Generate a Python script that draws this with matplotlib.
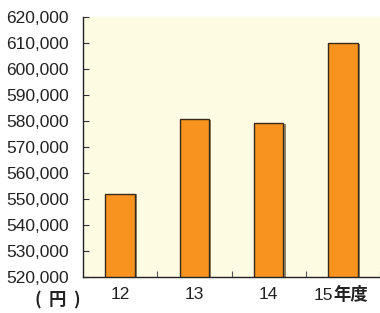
import numpy as np
import matplotlib.pyplot as plt
import matplotlib.patheffects as pe

plt.rcParams['font.family'] = ['Liberation Sans', 'Noto Sans CJK JP']

# 年度ごとの金額
nendo = ['12', '13', '14', '15']
kingaku = [552000, 580800, 579200, 610000]
y_ticks = list(range(520000, 620001, 10000))

fig = plt.figure(figsize=(3.8, 3.13), dpi=100)
ax = fig.add_axes([83 / 380, 36 / 313, 297 / 380, 260 / 313])
ax.set_facecolor('#FEFBE3')

x = np.arange(len(nendo))
ax.bar(x, kingaku, width=0.4, color='#F7931E', edgecolor='#3a2a1a', linewidth=1.0,
       path_effects=[pe.SimplePatchShadow(offset=(1.5, -0.5), shadow_rgbFace='#8a7a60', alpha=0.9),
                     pe.Normal()])

ax.set_xlim(-0.5, 3.5)
ax.set_ylim(520000, 620000)
ax.set_yticks(y_ticks)
ax.set_yticklabels(['{:,}'.format(v) for v in y_ticks], fontsize=12.5, color='#222222')
ax.tick_params(axis='y', direction='in', length=4, width=0.8, pad=10, color='#333333')

ax.set_xticks(x)
ax.set_xticklabels(['12', '13', '14', ''], fontsize=12.5, color='#222222')
ax.tick_params(axis='x', which='major', length=0, pad=7)
ax.set_xticks([0.5, 1.5, 2.5, 3.5], minor=True)
ax.tick_params(axis='x', which='minor', direction='in', length=4, width=0.8, color='#555555')

for s in ['top', 'right']:
    ax.spines[s].set_visible(False)
for s in ['left', 'bottom']:
    ax.spines[s].set_color('#222222')
    ax.spines[s].set_linewidth(1.0)

# 15年度 のラベル
fig.text(333 / 380, 1 - 295 / 313, '15', fontsize=12.5, color='#222222', ha='right', va='center')
fig.text(333 / 380, 1 - 295 / 313, '年度', fontsize=12.5, color='#222222', ha='left', va='center',
         fontweight='bold', family=['Noto Sans CJK JP'])

# （円）
for xp, t in [(38, '('), (57, '円'), (76, ')')]:
    fig.text(xp / 380, 1 - 300 / 313, t, fontsize=12.5, color='#222222', ha='center', va='center',
             fontweight='bold', family=['Noto Sans CJK JP'])

fig.savefig('out.png', dpi=100)
